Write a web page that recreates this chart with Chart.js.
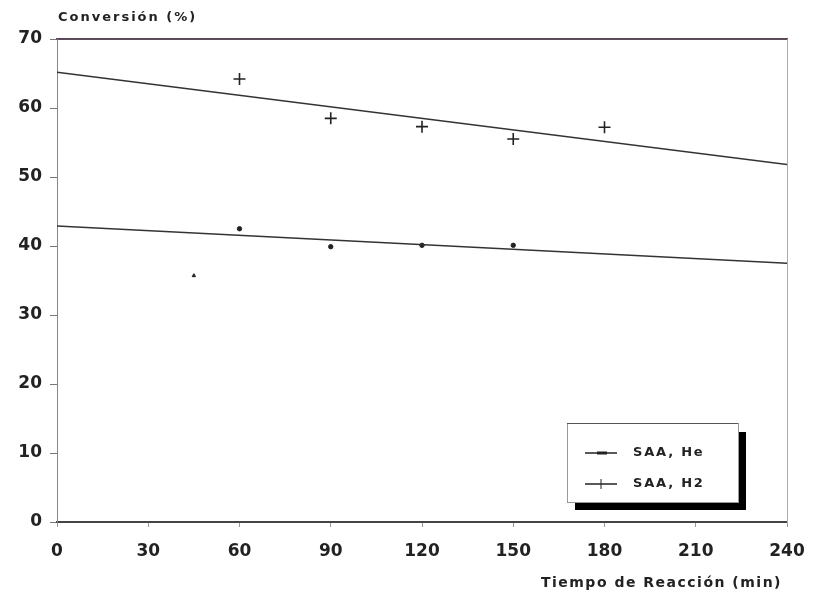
<!DOCTYPE html>
<html>
<head>
<meta charset="utf-8">
<script src="https://cdn.jsdelivr.net/npm/chart.js@4"></script>
<style>
  html, body { margin: 0; padding: 0; background: #fff; }
  #wrap { width: 814px; height: 597px; position: relative; }
</style>
</head>
<body>
<div id="wrap"><canvas id="grafico"></canvas></div>
<script>
// Datos: conversión (%) frente a tiempo de reacción (min)
const tiempoHe = [45, 60, 90, 120, 150];
const convHe = [35.7, 42.5, 39.9, 40.1, 40.1];
const tiempoH2 = [60, 90, 120, 150, 180];
const convH2 = [64.2, 58.5, 57.3, 55.5, 57.2];

// Rectas de ajuste (extremos a 0 y 240 min)
const ajusteX = [0, 240];
const ajusteHe = [42.9, 37.5];
const ajusteH2 = [65.2, 51.8];

const etiquetas = ['SAA, He', 'SAA, H2'];
const ticksX = [0, 30, 60, 90, 120, 150, 180, 210, 240];
const ticksY = [0, 10, 20, 30, 40, 50, 60, 70];

const pares = (xs, ys) => xs.map((x, i) => ({ x: x, y: ys[i] }));
const FUENTE = '"DejaVu Sans", sans-serif';

// Títulos de los ejes y leyenda con sombra
const decorado = {
    id: 'decorado',
    afterDraw(chart) {
        const c = chart.ctx;
        const a = chart.chartArea;
        c.save();
        c.fillStyle = '#222';
        c.textBaseline = 'middle';
        c.textAlign = 'left';
        c.letterSpacing = '2px';
        c.font = 'bold 13px ' + FUENTE;
        c.fillText('Conversión (%)', a.left + 1, 18);
        c.textAlign = 'right';
        c.letterSpacing = '1.5px';
        c.font = 'bold 14px ' + FUENTE;
        c.fillText('Tiempo de Reacción (min)', 782, 583);

        // caja de la leyenda
        const bx = 567, by = 423, bw = 171, bh = 79;
        c.fillStyle = '#000';
        c.fillRect(bx + bw, by + 9, 8, bh - 1);
        c.fillRect(bx + 8, by + bh, bw, 8);
        c.fillStyle = '#fff';
        c.fillRect(bx, by, bw, bh);
        c.strokeStyle = '#999';
        c.lineWidth = 1;
        c.strokeRect(bx + 0.5, by + 0.5, bw, bh);
        c.strokeStyle = '#555';
        c.beginPath(); c.moveTo(bx, by + 0.5); c.lineTo(bx + bw, by + 0.5); c.stroke();

        c.font = 'bold 13px ' + FUENTE;
        c.letterSpacing = '1.8px';
        c.textAlign = 'left';
        etiquetas.forEach((txt, i) => {
            const y = by + 30 + i * 31;
            c.strokeStyle = '#222';
            c.lineWidth = 1.5;
            c.beginPath(); c.moveTo(585, y); c.lineTo(617, y); c.stroke();
            if (i === 0) {
                c.lineWidth = 3;
                c.beginPath(); c.moveTo(597, y); c.lineTo(607, y); c.stroke();
            } else {
                c.lineWidth = 1;
                c.beginPath(); c.moveTo(601, y - 5); c.lineTo(601, y + 5); c.stroke();
            }
            c.fillStyle = '#222';
            c.fillText(txt, 633, y);
        });
        c.restore();
    }
};

const ctx = document.getElementById('grafico').getContext('2d');
new Chart(ctx, {
    type: 'scatter',
    data: {
        datasets: [
            {
                type: 'line',
                label: etiquetas[0] + ' ajuste',
                data: pares(ajusteX, ajusteHe),
                borderColor: '#333',
                borderWidth: 1.5,
                pointRadius: 0
            },
            {
                type: 'line',
                label: etiquetas[1] + ' ajuste',
                data: pares(ajusteX, ajusteH2),
                borderColor: '#333',
                borderWidth: 1.5,
                pointRadius: 0
            },
            {
                label: etiquetas[0],
                data: pares(tiempoHe, convHe),
                pointStyle: ['triangle', 'circle', 'circle', 'circle', 'circle'],
                pointRadius: [2, 2.2, 2.2, 2.2, 2.2],
                backgroundColor: '#222',
                borderColor: '#222',
                borderWidth: 1
            },
            {
                label: etiquetas[1],
                data: pares(tiempoH2, convH2),
                pointStyle: 'cross',
                pointRadius: 6,
                borderColor: '#222',
                borderWidth: 1.6
            }
        ]
    },
    options: {
        responsive: true,
        maintainAspectRatio: false,
        animation: false,
        layout: { padding: { top: 39, right: 27, left: 0, bottom: 0 } },
        plugins: {
            legend: { display: false },
            tooltip: { enabled: false }
        },
        scales: {
            x: {
                type: 'linear',
                min: 0, max: 240,
                afterBuildTicks: s => { s.ticks = ticksX.map(v => ({ value: v })); },
                afterFit: s => { s.height = 75; s.paddingRight = 0; s.paddingLeft = 0; },
                grid: { drawOnChartArea: false, tickLength: 5, color: '#999' },
                border: { color: '#444', width: 2 },
                ticks: { color: '#222', padding: 14, font: { family: FUENTE, size: 17, weight: 'bold' } }
            },
            xTop: {
                type: 'linear', position: 'top',
                min: 0, max: 240,
                afterFit: s => { s.height = 0; s.paddingRight = 0; s.paddingLeft = 0; },
                grid: { display: false },
                ticks: { display: false },
                border: { color: '#5a4a5a', width: 2, dash: [26, 4] }
            },
            y: {
                min: 0, max: 70,
                afterBuildTicks: s => { s.ticks = ticksY.map(v => ({ value: v })); },
                afterFit: s => { s.width = 57; },
                grid: { drawOnChartArea: false, tickLength: 7, color: '#777' },
                border: { color: '#888', width: 1, dash: [14, 3] },
                ticks: { color: '#222', padding: 8, font: { family: FUENTE, size: 17, weight: 'bold' } }
            },
            yRight: {
                position: 'right',
                min: 0, max: 70,
                afterFit: s => { s.width = 0; },
                grid: { display: false },
                ticks: { display: false },
                border: { color: '#aaa', width: 1 }
            }
        }
    },
    plugins: [decorado]
});
</script>
</body>
</html>
